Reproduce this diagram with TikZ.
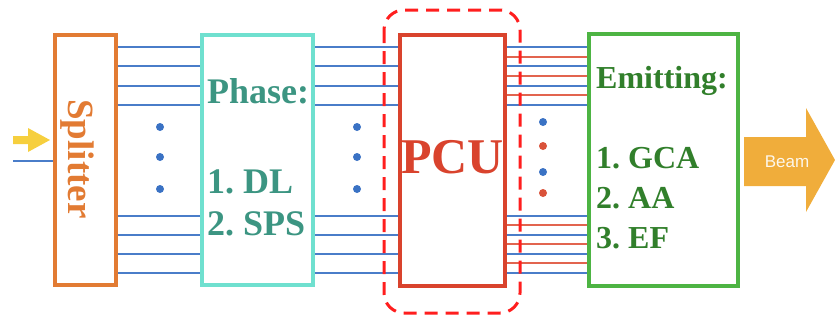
\documentclass[tikz,border=0pt]{standalone}
\usepackage{fontspec}
\setmainfont{Liberation Serif}
\newfontfamily\beamfont{Liberation Sans}
\definecolor{orangeC}{HTML}{E27B33}
\definecolor{tealbox}{HTML}{6FE0CF}
\definecolor{tealtext}{HTML}{3C9582}
\definecolor{blueL}{HTML}{4A7DC9}
\definecolor{redL}{HTML}{E2644F}
\definecolor{pcuRed}{HTML}{D9432D}
\definecolor{dashRed}{HTML}{FF1E1E}
\definecolor{greenBox}{HTML}{4DB443}
\definecolor{greenText}{HTML}{317F2B}
\definecolor{beamC}{HTML}{F0AD3B}
\definecolor{yellowC}{HTML}{F6CF3E}
\definecolor{dotBlue}{HTML}{3A72C4}
\definecolor{dotRed}{HTML}{D9523A}
\begin{document}
\frenchspacing
\begin{tikzpicture}[x=1pt,y=-1pt,
  blockbox/.style={rectangle, line width=4pt, inner sep=0pt, outer sep=2pt},
  bl/.style={draw=blueL, line width=2.4pt},
  rl/.style={draw=redL, line width=2.4pt},
  bigtxt/.style={font=\fontsize{36}{36}\selectfont\bfseries, inner sep=0pt, anchor=base west},
  emtxt/.style={font=\fontsize{32}{32}\selectfont\bfseries, inner sep=0pt, anchor=base west, text=greenText},
  bdot/.style={fill=dotBlue, draw=none},
  rdot/.style={fill=dotRed, draw=none}]
\useasboundingbox (0,0) rectangle (835,322);

% blocks
\node[blockbox, draw=orangeC, minimum width=61pt, minimum height=250pt] (split) at (85.5,160) {};
\node[blockbox, draw=tealbox, minimum width=111pt, minimum height=250pt] (phase) at (257.5,160) {};
\node[blockbox, draw=pcuRed, minimum width=105pt, minimum height=251pt] (pcu) at (452.5,160.5) {};
\node[blockbox, draw=greenBox, minimum width=149pt, minimum height=252pt] (emit) at (663.5,160) {};

% texts
\node[font=\fontsize{37}{37}\selectfont\bfseries, text=orangeC, rotate=-90, inner sep=0pt] (splittxt) at (77,159) {Splitter};
\node[bigtxt, text=tealtext] (ph1) at (207,103) {Phase:};
\node[bigtxt, text=tealtext] (ph2) at (207,193) {1. DL};
\node[bigtxt, text=tealtext] (ph3) at (207,235) {2. SPS};
\node[font=\fontsize{50}{50}\selectfont\bfseries, text=pcuRed, inner sep=0pt, anchor=base] (pcutxt) at (452.5,173) {PCU};
\node[emtxt] (em1) at (596,88) {Emitting:};
\node[emtxt] (em2) at (596,168) {1. GCA};
\node[emtxt] (em3) at (596,208) {2. AA};
\node[emtxt] (em4) at (596,248) {3. EF};

% connectors splitter -> phase -> pcu
\foreach \y in {47,66,86,105,216,235,254,273} {
  \draw[bl] (split.east |- 0,\y) -- (phase.west |- 0,\y);
  \draw[bl] (phase.east |- 0,\y) -- (pcu.west |- 0,\y);
}
% pcu -> emitting
\foreach \y in {47,66,86,105,216,235,254,273}
  \draw[bl] (pcu.east |- 0,\y) -- (emit.west |- 0,\y);
\foreach \y in {57,76,95,225,244,263}
  \draw[rl] (pcu.east |- 0,\y) -- (emit.west |- 0,\y);

% dots
\foreach \x in {160,357} \foreach \y in {127,157,189} \fill[bdot] (\x,\y) circle (4pt);
\fill[bdot] (543,122) circle (4pt);
\fill[rdot] (543,146) circle (4pt);
\fill[bdot] (543,172) circle (4pt);
\fill[rdot] (543,193) circle (4pt);

% input
\coordinate (inpt) at (13,161);
\draw[bl] (inpt) -- (split.west |- inpt);
\fill[yellowC] (13,136) -- (28,136) -- (28,128) -- (50,140) -- (28,152) -- (28,144) -- (13,144) -- cycle;

% beam arrow
\fill[beamC] (744,137) -- (806,137) -- (806,108) -- (835,160) -- (806,212) -- (806,186) -- (744,186) -- cycle;
\node[font=\beamfont\fontsize{17}{17}\selectfont, text=white!90!beamC, inner sep=0pt] (beam) at (787,162) {Beam};

% dashed group around PCU
\draw[dashRed, line width=3pt, dash pattern=on 13pt off 8pt, rounded corners=20pt] (384,10) rectangle (520,313);
\end{tikzpicture}
\end{document}
